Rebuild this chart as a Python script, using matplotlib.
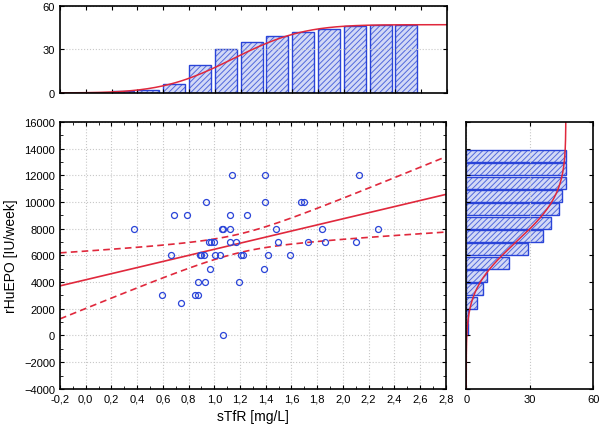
import numpy as np
import matplotlib
matplotlib.use('Agg')
import matplotlib.pyplot as plt
from matplotlib.ticker import MultipleLocator, FixedLocator, FixedFormatter
from math import erf

plt.rcParams['font.family'] = ['Liberation Sans', 'DejaVu Sans']
plt.rcParams['hatch.linewidth'] = 0.7

# scatter data
stfr = [0.377, 0.667, 0.594, 0.69, 0.786, 0.739, 0.938, 0.848, 0.876, 0.876,
        0.93, 0.887, 0.897, 0.918, 0.964, 0.977, 0.995, 1.003, 1.045, 1.057,
        1.068, 1.068, 1.125, 1.125, 1.125, 1.14, 1.166, 1.205, 1.223, 1.19,
        1.254, 1.383, 1.391, 1.391, 1.417, 1.482, 1.495, 1.585, 1.676, 1.694,
        1.728, 1.836, 1.857, 2.1, 2.123, 2.27, 0.96]
rhuepo = [8000, 6000, 3000, 9000, 9000, 2400, 10000, 3000, 3000, 4000,
          4000, 6000, 6000, 6000, 5000, 7000, 7000, 6000, 6000, 8000,
          8000, 50, 9000, 8000, 7000, 12000, 7000, 6000, 6000, 4000,
          9000, 5000, 12000, 10000, 6000, 8000, 7000, 6000, 10000, 10000,
          7000, 8000, 7000, 7000, 12000, 8000, 7000]

# cumulative histogram of sTfR (top)
top_edges = [0.2, 0.4, 0.6, 0.8, 1.0, 1.2, 1.4, 1.6, 1.8, 2.0, 2.2, 2.4]
top_counts = [1, 2, 6, 19, 30, 35, 39, 42, 44, 46, 47, 47]

# cumulative histogram of rHuEPO (right)
right_edges = [0, 1000, 2000, 3000, 4000, 5000, 6000, 7000, 8000, 9000,
               10000, 11000, 12000, 13000]
right_counts = [1, 1, 5, 8, 10, 20, 29, 36, 40, 44, 45, 47, 47, 47]

xticklabels = ['-0,2', '0,0', '0,2', '0,4', '0,6', '0,8', '1,0', '1,2', '1,4',
               '1,6', '1,8', '2,0', '2,2', '2,4', '2,6', '2,8']

blue = '#2a44d8'
hatchc = '#5269dc'
face = '#d3d9f6'
red = '#e0283c'
gridc = '#c8c8c8'

fig = plt.figure(figsize=(6, 4.27), dpi=100)
ax = fig.add_axes([0.1, 0.087, 0.643, 0.625])
axt = fig.add_axes([0.1, 0.78, 0.645, 0.204])
axr = fig.add_axes([0.777, 0.087, 0.212, 0.625])

x = np.array(stfr)
y = np.array(rhuepo)
n = len(x)

# regression + 95% confidence band
b, a = np.polyfit(x, y, 1)
xs = np.linspace(-0.2, 2.8, 100)
yhat = a + b * xs
res = y - (a + b * x)
s = np.sqrt(np.sum(res**2) / (n - 2))
sxx = np.sum((x - x.mean())**2)
se = s * np.sqrt(1.0 / n + (xs - x.mean())**2 / sxx)
t = 2.014
ax.plot(xs, yhat, color=red, lw=1.2)
ax.plot(xs, yhat + t * se, color=red, lw=1.2, ls=(0, (4, 2.5)))
ax.plot(xs, yhat - t * se, color=red, lw=1.2, ls=(0, (4, 2.5)))
ax.plot(x, y, 'o', mfc='none', mec=blue, ms=4.3, mew=0.9)

ax.set_xlim(-0.2, 2.8)
ax.set_ylim(-4000, 16000)
ax.xaxis.set_major_locator(FixedLocator(np.linspace(-0.2, 2.8, 16)))
ax.xaxis.set_major_formatter(FixedFormatter(xticklabels))
ax.xaxis.set_minor_locator(MultipleLocator(0.1))
ax.yaxis.set_major_locator(MultipleLocator(2000))
ax.yaxis.set_minor_locator(MultipleLocator(1000))
ax.grid(True, color=gridc, ls=':', lw=0.8)
ax.tick_params(which='both', direction='in', top=True, right=True, labelsize=8)
ax.tick_params(which='major', length=3)
ax.tick_params(which='minor', length=2)
ax.set_xlabel('sTfR [mg/L]', fontsize=10)
ax.set_ylabel('rHuEPO [IU/week]', fontsize=10)
for sp in ax.spines.values():
    sp.set_linewidth(1.2)


def ncdf(v, m, sd):
    return np.array([0.5 * (1 + erf((q - m) / (sd * np.sqrt(2)))) for q in v])


# top histogram
axt.bar(top_edges, top_counts, width=0.17, align='edge', facecolor=face,
        edgecolor=hatchc, hatch='//////', lw=0)
axt.bar(top_edges, top_counts, width=0.17, align='edge',
        facecolor='none', edgecolor=blue, lw=1.0)
xc = np.linspace(-0.2, 2.8, 200)
axt.plot(xc, 47 * ncdf(xc, 1.14, 0.43), color=red, lw=1.1)
axt.set_xlim(-0.2, 2.8)
axt.set_ylim(0, 60)
axt.set_yticks([0, 30, 60])
axt.xaxis.set_major_locator(MultipleLocator(0.2))
axt.set_xticklabels([])
axt.yaxis.grid(True, color=gridc, ls=':', lw=0.8)
axt.tick_params(direction='in', top=True, right=True, labelsize=8, length=3)
for sp in axt.spines.values():
    sp.set_linewidth(1.2)

# right histogram
axr.barh(right_edges, right_counts, height=900, align='edge', facecolor=face,
         edgecolor=hatchc, hatch='//////', lw=0)
axr.barh(right_edges, right_counts, height=900, align='edge',
         facecolor='none', edgecolor=blue, lw=1.0)
yc = np.linspace(-4000, 16000, 300)
axr.plot(47 * ncdf(yc, 7000, 2800), yc, color=red, lw=1.1)
axr.set_ylim(-4000, 16000)
axr.set_xlim(0, 60)
axr.set_xticks([0, 30, 60])
axr.yaxis.set_major_locator(MultipleLocator(2000))
axr.set_yticklabels([])
axr.xaxis.grid(True, color=gridc, ls=':', lw=0.8)
axr.tick_params(direction='in', top=True, right=True, labelsize=8, length=3)
for sp in axr.spines.values():
    sp.set_linewidth(1.2)

plt.savefig('out.png', dpi=100)
